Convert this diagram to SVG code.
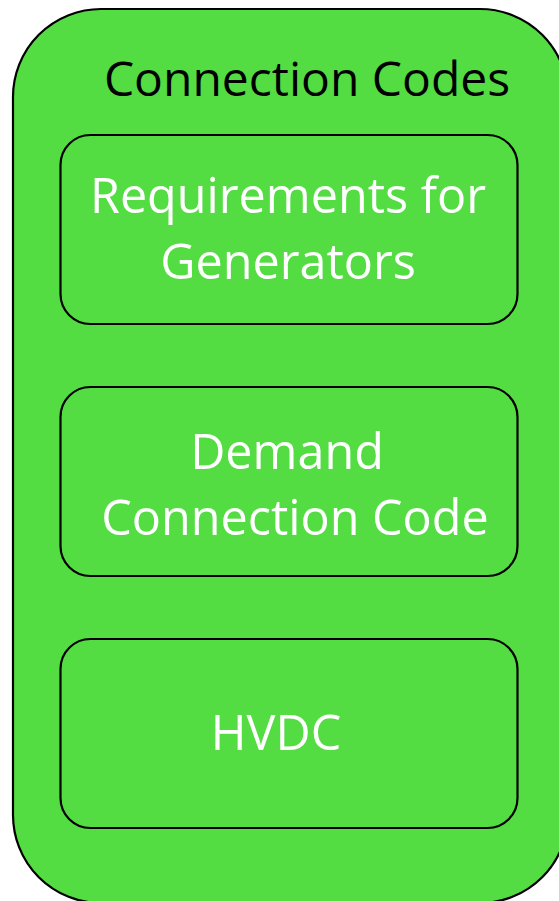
<svg xmlns="http://www.w3.org/2000/svg" width="559" height="901" viewBox="0 0 559 901">
  <style>
    .panel { fill: #54DC43; stroke: #000; stroke-width: 2.2; }
    .item { fill: none; stroke: #000; stroke-width: 2.2; }
    .title { font-family: "Open Sans", "Liberation Sans", sans-serif; font-size: 48px; fill: #000; text-anchor: middle; }
    .label { font-family: "Open Sans", "Liberation Sans", sans-serif; font-size: 48.5px; fill: #fff; text-anchor: middle; }
  </style>
  <rect width="559" height="901" fill="#fff"/>
  <g id="connection-codes">
    <rect class="panel" x="13" y="9" width="555" height="894" rx="88" ry="88"/>
    <text class="title" x="307" y="96">Connection Codes</text>
  </g>
  <g id="requirements-for-generators">
    <rect class="item" x="60.5" y="135" width="457" height="189" rx="30" ry="30"/>
    <text class="label" x="288" y="213">Requirements for</text>
    <text class="label" x="288" y="279">Generators</text>
  </g>
  <g id="demand-connection-code">
    <rect class="item" x="60.5" y="387" width="457" height="189" rx="30" ry="30"/>
    <text class="label" x="287" y="469">Demand</text>
    <text class="label" x="295" y="535">Connection Code</text>
  </g>
  <g id="hvdc">
    <rect class="item" x="60.5" y="639" width="457" height="189" rx="30" ry="30"/>
    <text class="label" x="276" y="750">HVDC</text>
  </g>
  <g id="connectors"/>
</svg>
